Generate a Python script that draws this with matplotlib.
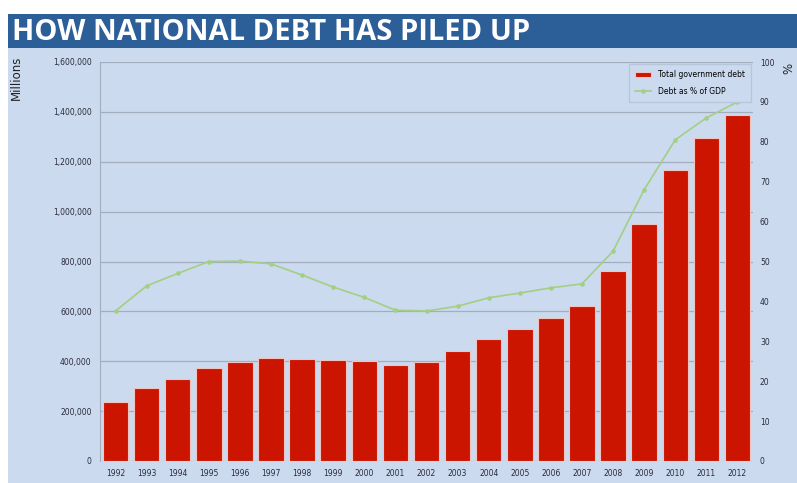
import numpy as np
import matplotlib.pyplot as plt
from matplotlib.patches import Rectangle

years = ['1992', '1993', '1994', '1995', '1996', '1997', '1998', '1999', '2000', '2001', '2002',
         '2003', '2004', '2005', '2006', '2007', '2008', '2009', '2010', '2011', '2012']
debt = np.array([236000, 293000, 329000, 373000, 397000, 415000, 409000, 406000, 400000, 386000, 397000,
                 441000, 489000, 529000, 573000, 621000, 762000, 950000, 1167000, 1295000, 1387000])
pct_gdp = np.array([37.6, 43.9, 47.0, 50.0, 50.1, 49.4, 46.6, 43.6, 41.0, 37.8, 37.6,
                    38.8, 40.9, 42.1, 43.4, 44.4, 52.6, 68.0, 80.5, 86.0, 90.0])

bg = '#cbdaee'
fig = plt.figure(figsize=(7.97, 4.83), dpi=100)
fig.patch.set_facecolor('white')
# chart background and title band
fig.patches.append(Rectangle((8/797, 0), 789/797, 435/483, transform=fig.transFigure,
                             facecolor=bg, edgecolor='none', zorder=-2))
fig.patches.append(Rectangle((8/797, 435/483), 789/797, 34/483, transform=fig.transFigure,
                             facecolor='#2c5e98', edgecolor='none', zorder=-1))
fig.text(12/797, 451/483, 'HOW NATIONAL DEBT HAS PILED UP', color='white', fontsize=21,
         fontweight='bold', family='Open Sans', va='center', ha='left')

ax = fig.add_axes([100/797, 22/483, 653/797, 399/483])
ax.set_facecolor(bg)
x = np.arange(len(years))
bars = ax.bar(x, debt, width=0.82, color='#cc1500', edgecolor='#f2c4c0', linewidth=0.8,
              label='Total government debt', zorder=3)
ax.set_xlim(-0.5, len(years) - 0.5)
ax.set_ylim(0, 1600000)
ax.set_yticks(np.arange(0, 1600001, 200000))
ax.set_yticklabels(['0'] + ['{:,}'.format(v) for v in range(200000, 1600001, 200000)])
ax.set_xticks(x)
ax.set_xticklabels(years)
ax.grid(axis='y', color='#a3adbd', linewidth=0.9, zorder=0)
for s in ['top', 'right', 'bottom']:
    ax.spines[s].set_visible(False)
ax.spines['left'].set_color('#a3adbd')
ax.tick_params(length=0, labelsize=5.5, colors='#2b2b3b', pad=6)
ax.set_ylabel('Millions', fontsize=8.5, color='#222')
ax.yaxis.set_label_coords(-0.118, 0.96)

ax2 = ax.twinx()
ax2.plot(x, pct_gdp, color='#a2cf84', linewidth=1.2, marker='o', markersize=2.3,
         label='Debt as % of GDP', zorder=4)
ax2.set_ylim(0, 100)
ax2.set_yticks(np.arange(0, 101, 10))
for s in ['top', 'right', 'bottom', 'left']:
    ax2.spines[s].set_visible(False)
ax2.tick_params(length=0, labelsize=5.5, colors='#2b2b3b', pad=5)
ax2.set_ylabel('%', fontsize=8.5, color='#222', rotation=90)
ax2.yaxis.set_label_coords(1.045, 0.985)

h1, l1 = ax.get_legend_handles_labels()
h2, l2 = ax2.get_legend_handles_labels()
leg = ax2.legend(h1 + h2, l1 + l2, loc='upper right', fontsize=5.5, frameon=True,
                 facecolor=bg, edgecolor='#b8c6da', framealpha=1, fancybox=False,
                 handlelength=2.2, borderpad=0.8, labelspacing=1.0, borderaxespad=0.3)

fig.savefig('out.png', dpi=100)
